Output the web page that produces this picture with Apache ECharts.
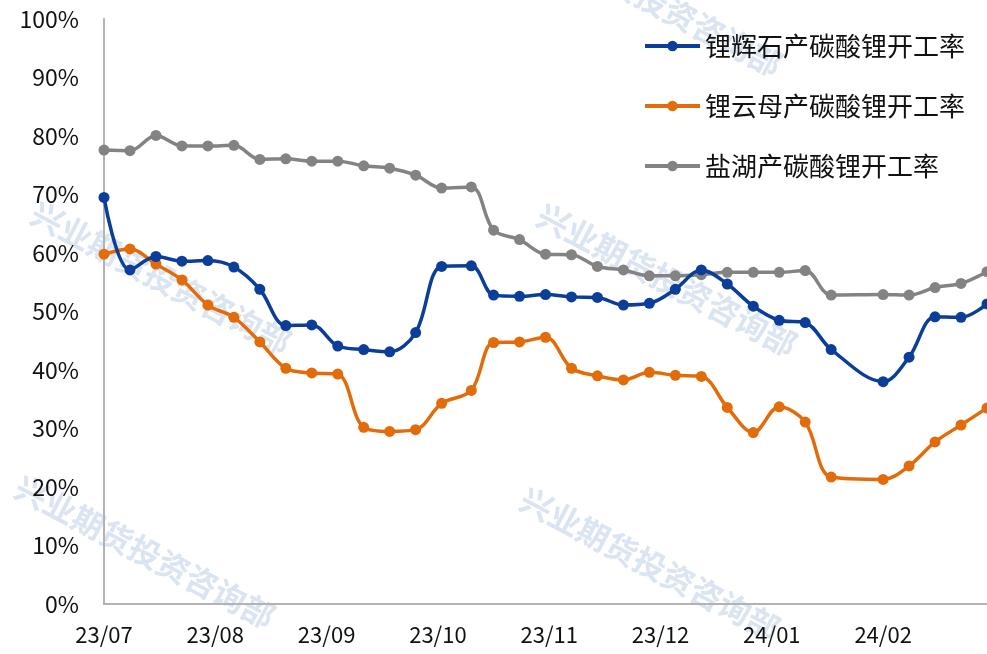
<!DOCTYPE html>
<html>
<head>
<meta charset="utf-8">
<script src="https://cdn.jsdelivr.net/npm/echarts@6/dist/echarts.min.js"></script>
<style>
  html, body { margin: 0; padding: 0; background: #fff; }
  #chart { width: 987px; height: 654px; }
</style>
</head>
<body>
<div id="chart"></div>
<script>
// weekly observation dates (one week in late Jan is missing in the source)
const dates = [
  '2023-07-07', '2023-07-14', '2023-07-21', '2023-07-28', '2023-08-04', '2023-08-11',
  '2023-08-18', '2023-08-25', '2023-09-01', '2023-09-08', '2023-09-15', '2023-09-22',
  '2023-09-29', '2023-10-06', '2023-10-14', '2023-10-20', '2023-10-27', '2023-11-03',
  '2023-11-10', '2023-11-17', '2023-11-24', '2023-12-01', '2023-12-08', '2023-12-15',
  '2023-12-22', '2023-12-29', '2024-01-05', '2024-01-12', '2024-01-19', '2024-02-02',
  '2024-02-09', '2024-02-16', '2024-02-23', '2024-03-01'
]

const spodumene = [
  69.5, 57.1, 59.4, 58.6, 58.7, 57.6, 53.8, 47.6, 47.7, 44.1, 43.5, 43.1,
  46.4, 57.7, 57.8, 52.8, 52.6, 52.9, 52.5, 52.4, 51.1, 51.4, 53.8, 57.1,
  54.7, 50.9, 48.5, 48.1, 43.5, 38.0, 42.2, 49.1, 49.0, 51.3
]
const lepidolite = [
  59.8, 60.7, 58.1, 55.4, 51.1, 49.0, 44.8, 40.3, 39.5, 39.3, 30.2, 29.5,
  29.8, 34.3, 36.5, 44.7, 44.8, 45.6, 40.3, 39.0, 38.3, 39.6, 39.1, 38.9,
  33.6, 29.3, 33.7, 31.1, 21.7, 21.3, 23.6, 27.7, 30.6, 33.5
]
const saltLake = [
  77.6, 77.5, 80.1, 78.3, 78.3, 78.4, 76.0, 76.1, 75.7, 75.7, 74.9, 74.5,
  73.3, 71.1, 71.3, 63.9, 62.3, 59.8, 59.7, 57.7, 57.1, 56.1, 56.1, 56.3,
  56.7, 56.7, 56.7, 57.0, 52.8, 52.9, 52.8, 54.1, 54.8, 56.8
]

// date axis: a label every 30 days from the first date
const tickLabels = ['23/07', '23/08', '23/09', '23/10', '23/11', '23/12', '24/01', '24/02']

const seriesNames = ['锂辉石产碳酸锂开工率', '锂云母产碳酸锂开工率', '盐湖产碳酸锂开工率']
const seriesColors = ['#0a3e99', '#e36c0a', '#838383']

const watermark = '兴业期货投资咨询部'
const watermarkCenters = [[161, 278], [667, 280], [145, 552], [650, 564], [652, 0]]

const DAY = 86400000
const t0 = Date.parse(dates[0])
const dayOffsets = dates.map((d) => (Date.parse(d) - t0) / DAY)

function pairs(values) {
  return values.map((v, i) => [dayOffsets[i], v])
}

const chart = echarts.init(document.getElementById('chart'))
const font = '"Noto Sans CJK SC", "Noto Sans", sans-serif'

chart.setOption({
  backgroundColor: '#fff',
  animation: false,
  textStyle: { fontFamily: font },
  graphic: watermarkCenters.map(([x, y]) => ({
    type: 'text',
    x,
    y,
    rotation: -0.485,
    z: -10,
    silent: true,
    style: {
      text: watermark,
      fontSize: 32,
      fontWeight: 'bold',
      fontFamily: font,
      fill: '#dbe4f1',
      align: 'center',
      verticalAlign: 'middle'
    }
  })),
  legend: {
    orient: 'vertical',
    right: 17,
    top: 28,
    itemWidth: 55,
    itemHeight: 13,
    itemGap: 34,
    lineStyle: { width: 4 },
    textStyle: { fontSize: 26, color: '#111', fontFamily: font },
    data: seriesNames
  },
  grid: {
    left: 104,
    right: 0,
    top: 19,
    bottom: 50
  },
  xAxis: {
    type: 'value',
    min: 0,
    max: dayOffsets[dayOffsets.length - 1],
    interval: 30,
    splitLine: { show: false },
    axisTick: { show: false },
    axisLine: { show: true, lineStyle: { color: '#b3b3b3', width: 2 } },
    axisLabel: {
      fontSize: 22,
      color: '#111',
      margin: 20,
      showMaxLabel: false,
      formatter: (v) => tickLabels[Math.round(v / 30)] ?? ''
    }
  },
  yAxis: {
    type: 'value',
    min: 0,
    max: 100,
    interval: 10,
    splitLine: { show: false },
    axisTick: { show: false },
    axisLine: { show: true, lineStyle: { color: '#b3b3b3', width: 2 } },
    axisLabel: {
      fontSize: 23,
      color: '#111',
      margin: 25,
      formatter: '{value}%'
    }
  },
  series: [spodumene, lepidolite, saltLake].map((values, i) => ({
    name: seriesNames[i],
    type: 'line',
    smooth: 0.35,
    symbol: 'circle',
    symbolSize: 11,
    clip: false,
    data: pairs(values),
    itemStyle: { color: seriesColors[i] },
    lineStyle: { color: seriesColors[i], width: 3.5 },
    z: 2 + (2 - i)
  }))
})
</script>
</body>
</html>
